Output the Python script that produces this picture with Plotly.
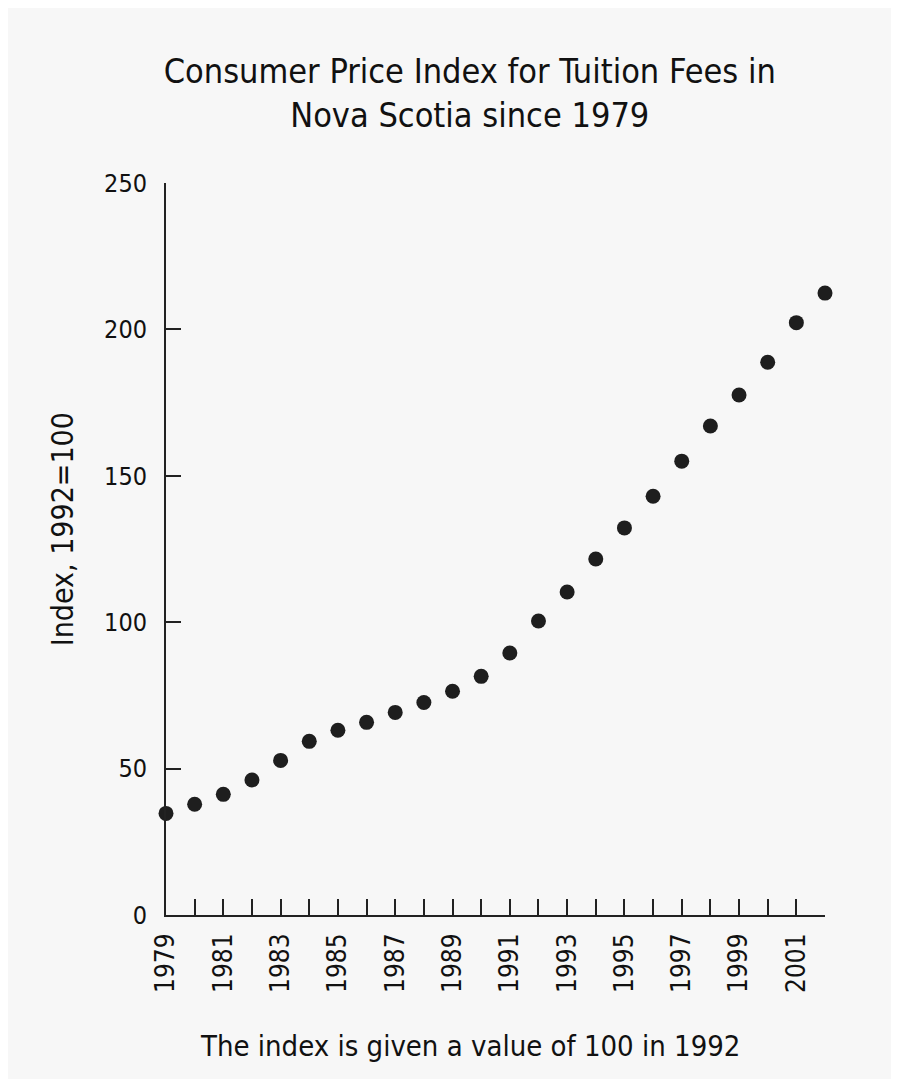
import plotly.graph_objects as go

years = list(range(1979, 2003))
cpi_index = [34.7, 37.8, 41.2, 46.1, 52.8, 59.3, 63.1, 65.8, 69.2, 72.6, 76.4, 81.5,
             89.5, 100.4, 110.3, 121.6, 132.2, 143.0, 155.0, 167.0, 177.6, 188.8, 202.3, 212.4]
tick_labels = [str(y) if y % 2 == 1 else "" for y in years]
y_ticks = [0, 50, 100, 150, 200, 250]

font_family = "DejaVu Sans Condensed, DejaVu Sans, sans-serif"
ink = "#111111"

fig = go.Figure()

fig.add_trace(go.Scatter(
    x=years,
    y=cpi_index,
    mode="markers",
    marker=dict(size=15, color="#1e1e1e"),
    cliponaxis=False,
    showlegend=False
))

fig.update_layout(
    width=883,
    height=1071,
    margin=dict(l=158, r=66, t=175, b=164),
    paper_bgcolor="#f7f7f7",
    plot_bgcolor="#f7f7f7",
    font=dict(family=font_family, size=25, color=ink),
    title=dict(
        text="Consumer Price Index for Tuition Fees in<br>Nova Scotia since 1979",
        font=dict(size=34, color=ink),
        xref="paper", x=0.461, xanchor="center",
        yref="container", y=1 - 75 / 1071, yanchor="middle"
    ),
    xaxis=dict(
        range=[1979, 2002],
        tickvals=years,
        ticktext=tick_labels,
        tickangle=-90,
        ticks="inside", ticklen=16, tickwidth=2, tickcolor="#222",
        showline=True, linecolor="#222", linewidth=2,
        showgrid=False, zeroline=False,
        ticklabelstandoff=6,
        tickfont=dict(size=26)
    ),
    yaxis=dict(
        range=[0, 250],
        tickvals=y_ticks,
        ticks="inside", ticklen=15, tickwidth=2, tickcolor="#222",
        showline=True, linecolor="#222", linewidth=2,
        showgrid=False, zeroline=False,
        ticklabelstandoff=12,
        tickfont=dict(size=25)
    ),
    annotations=[
        dict(text="The index is given a value of 100 in 1992",
             xref="paper", yref="paper", x=0.461, y=0,
             xanchor="center", yanchor="middle", yshift=-131,
             showarrow=False, font=dict(size=29)),
        dict(text="Index, 1992=100",
             xref="paper", yref="paper", x=0, y=0.527,
             xanchor="center", yanchor="middle", xshift=-104,
             textangle=-90, showarrow=False, font=dict(size=30)),
    ]
)

fig.write_html("out.html")
